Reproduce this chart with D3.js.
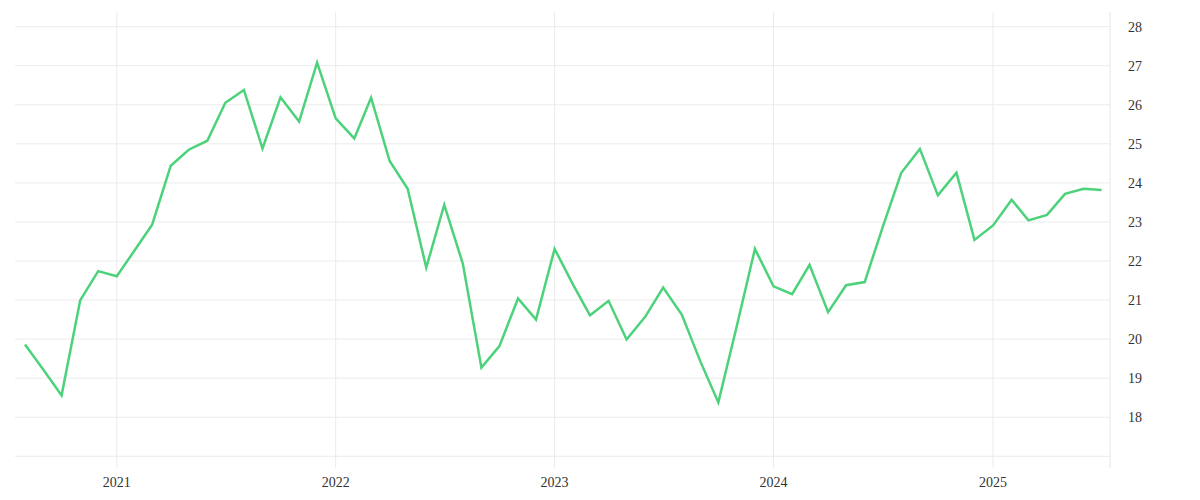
<!DOCTYPE html>
<html>
<head>
<meta charset="utf-8">
<script src="https://cdn.jsdelivr.net/npm/d3@7"></script>
<style>
  body { margin: 0; background: #fff; }
  text { font-family: "Liberation Serif", serif; fill: #333; }
</style>
</head>
<body>
<div id="chart"></div>
<script>
const width = 1200,
    height = 500,
    margin = { top: 12, bottom: 32, left: 15, right: 90 };

// monthly values, Aug 2020 .. Jul 2025
const months = d3.timeMonths(new Date(2020, 7, 1), new Date(2025, 7, 1));
const values = [
    19.86, 19.21, 18.56, 20.99, 21.74,
    21.61, 22.30, 22.93, 24.44, 24.85, 25.08, 26.05, 26.38, 24.88, 26.19, 25.57, 27.08,
    25.65, 25.14, 26.18, 24.56, 23.85, 21.83, 23.44, 21.93, 19.27, 19.82, 21.04, 20.50,
    22.31, 21.39, 20.61, 20.98, 19.99, 20.57, 21.32, 20.63, 19.43, 18.38, 20.35, 22.31,
    21.35, 21.15, 21.90, 20.69, 21.38, 21.46, 22.87, 24.26, 24.87, 23.68, 24.26, 22.54,
    22.91, 23.57, 23.04, 23.18, 23.72, 23.85, 23.82
];
const yearTicks = [2021, 2022, 2023, 2024, 2025];
const gridValues = [17, 18, 19, 20, 21, 22, 23, 24, 25, 26, 27, 28];
const labelValues = [18, 19, 20, 21, 22, 23, 24, 25, 26, 27, 28];

const data = months.map((m, i) => ({ date: m, value: values[i] }));

const svg = d3.select("#chart")
    .append("svg")
    .attr("width", width)
    .attr("height", height);

const x = d3.scaleTime()
    .domain([new Date(2020, 6, 15, 8), new Date(2025, 6, 15)])
    .range([margin.left, width - margin.right]);

const y = d3.scaleLinear()
    .domain([16.7, 28.35])
    .range([height - margin.bottom, margin.top + 1]);

// horizontal grid
svg.selectAll(".hgrid")
    .data(gridValues)
    .join("line")
    .attr("class", "hgrid")
    .attr("x1", margin.left)
    .attr("x2", width - margin.right)
    .attr("y1", d => y(d))
    .attr("y2", d => y(d))
    .attr("stroke", "#ebebeb")
    .attr("stroke-width", 1);

// vertical grid
svg.selectAll(".vgrid")
    .data(yearTicks)
    .join("line")
    .attr("class", "vgrid")
    .attr("x1", d => x(new Date(d, 0, 1)))
    .attr("x2", d => x(new Date(d, 0, 1)))
    .attr("y1", margin.top)
    .attr("y2", height - margin.bottom)
    .attr("stroke", "#ebebeb")
    .attr("stroke-width", 1);

// right axis line
svg.append("line")
    .attr("x1", width - margin.right)
    .attr("x2", width - margin.right)
    .attr("y1", margin.top)
    .attr("y2", height - margin.bottom)
    .attr("stroke", "#e6e6e6");

// y labels
svg.selectAll(".ylabel")
    .data(labelValues)
    .join("text")
    .attr("class", "ylabel")
    .attr("x", width - margin.right + 18)
    .attr("y", d => y(d) + 2)
    .attr("dominant-baseline", "middle")
    .style("font-size", "14px")
    .text(d => d);

// x labels
svg.selectAll(".xlabel")
    .data(yearTicks)
    .join("text")
    .attr("class", "xlabel")
    .attr("x", d => x(new Date(d, 0, 1)))
    .attr("y", 484)
    .attr("text-anchor", "middle")
    .attr("dominant-baseline", "middle")
    .style("font-size", "14px")
    .text(d => d);

const line = d3.line()
    .x(d => x(d.date))
    .y(d => y(d.value));

svg.append("path")
    .datum(data)
    .attr("d", line)
    .attr("fill", "none")
    .attr("stroke", "#4cd27b")
    .attr("stroke-width", 2.5)
    .attr("stroke-linejoin", "miter");
</script>
</body>
</html>
